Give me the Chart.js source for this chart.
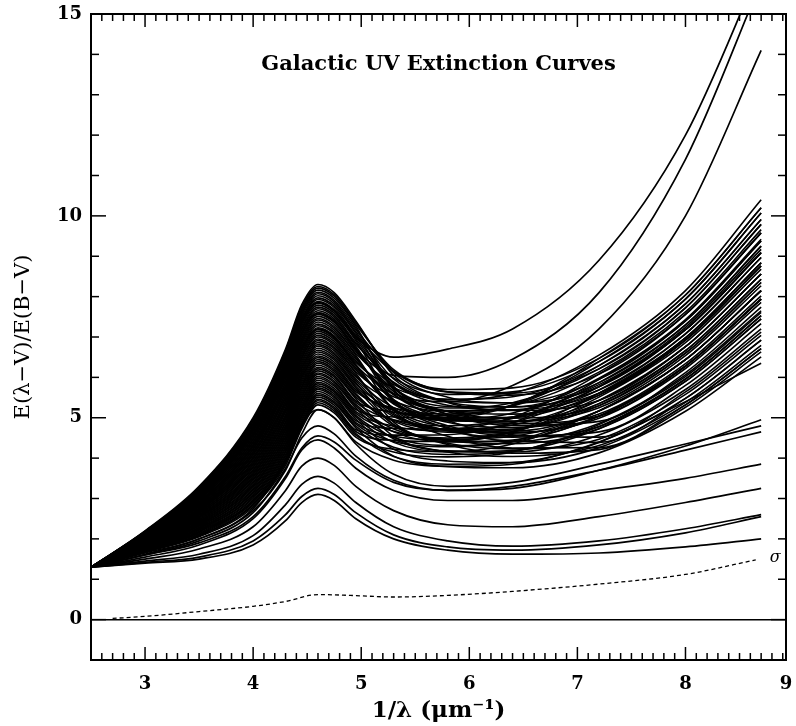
<!DOCTYPE html>
<html>
<head>
<meta charset="utf-8">
<title>Galactic UV Extinction Curves</title>
<script src="https://cdn.jsdelivr.net/npm/chart.js@4.4.1/dist/chart.umd.min.js"></script>
<style>
    html, body { margin: 0; padding: 0; background: #fff; }
    #wrap { width: 796px; height: 726px; }
</style>
</head>
<body>
<div id="wrap"><canvas id="uv-chart" width="796" height="726"></canvas></div>
<script>
var waveNumbers = [2.5, 3.0, 3.5, 4.0, 4.3, 4.45, 4.6, 4.75, 4.95, 5.3, 5.8, 6.4, 7.2, 8.0, 8.7];

// the dense bundle of curves, E(lambda-V)/E(B-V)
var bandCurves = [
    [1.3, 2.20, 3.30, 5.00, 6.70, 7.80, 8.30, 8.10, 7.40, 6.05, 5.38, 5.18, 5.43, 6.76, 8.56],
    [1.3, 2.19, 3.28, 4.97, 6.66, 7.75, 8.25, 8.05, 7.36, 6.12, 5.51, 5.37, 5.77, 7.18, 9.09],
    [1.3, 2.18, 3.26, 4.93, 6.61, 7.70, 8.21, 8.01, 7.31, 6.19, 5.64, 5.56, 6.08, 7.56, 9.58],
    [1.3, 2.18, 3.24, 4.90, 6.57, 7.66, 8.16, 7.96, 7.27, 5.69, 4.93, 4.58, 4.52, 5.64, 7.12],
    [1.3, 2.17, 3.22, 4.86, 6.52, 7.61, 8.11, 7.91, 7.22, 5.78, 5.08, 4.81, 4.91, 6.12, 7.74],
    [1.3, 2.16, 3.20, 4.83, 6.48, 7.56, 8.07, 7.87, 7.18, 6.15, 5.64, 5.61, 6.21, 7.72, 9.79],
    [1.3, 2.15, 3.18, 4.79, 6.43, 7.51, 8.02, 7.82, 7.13, 5.96, 5.39, 5.27, 5.69, 7.08, 8.97],
    [1.3, 2.14, 3.16, 4.76, 6.39, 7.46, 7.97, 7.77, 7.09, 5.74, 5.09, 4.86, 5.04, 6.28, 7.94],
    [1.3, 2.13, 3.14, 4.72, 6.34, 7.42, 7.93, 7.73, 7.04, 6.14, 5.70, 5.74, 6.47, 8.04, 10.2],
    [1.3, 2.13, 3.12, 4.69, 6.30, 7.37, 7.88, 7.68, 7.00, 5.86, 5.31, 5.20, 5.61, 6.98, 8.84],
    [1.3, 2.12, 3.11, 4.66, 6.25, 7.32, 7.84, 7.64, 6.95, 5.74, 5.15, 4.99, 5.30, 6.60, 8.35],
    [1.3, 2.11, 3.09, 4.62, 6.21, 7.27, 7.79, 7.59, 6.91, 5.44, 4.73, 4.42, 4.39, 5.48, 6.92],
    [1.3, 2.10, 3.07, 4.59, 6.16, 7.22, 7.74, 7.54, 6.86, 5.88, 5.41, 5.37, 5.95, 7.40, 9.38],
    [1.3, 2.09, 3.05, 4.55, 6.12, 7.18, 7.70, 7.50, 6.82, 5.98, 5.58, 5.64, 6.39, 7.94, 10.07],
    [1.3, 2.08, 3.03, 4.52, 6.07, 7.13, 7.65, 7.45, 6.77, 5.43, 4.80, 4.55, 4.65, 5.80, 7.33],
    [1.3, 2.08, 3.01, 4.48, 6.03, 7.08, 7.60, 7.40, 6.73, 5.58, 5.04, 4.91, 5.25, 6.54, 8.27],
    [1.3, 2.07, 2.99, 4.45, 5.98, 7.03, 7.56, 7.36, 6.68, 5.65, 5.16, 5.09, 5.56, 6.92, 8.76],
    [1.3, 2.06, 2.97, 4.41, 5.94, 6.98, 7.51, 7.31, 6.64, 5.72, 5.28, 5.27, 5.87, 7.30, 9.25],
    [1.3, 2.05, 2.95, 4.38, 5.89, 6.94, 7.46, 7.26, 6.59, 5.82, 5.45, 5.52, 6.29, 7.82, 9.91],
    [1.3, 2.04, 2.93, 4.34, 5.85, 6.89, 7.42, 7.22, 6.55, 5.18, 4.54, 4.25, 4.26, 5.32, 6.71],
    [1.3, 2.04, 2.91, 4.31, 5.80, 6.84, 7.37, 7.17, 6.50, 5.40, 4.89, 4.76, 5.09, 6.34, 8.02],
    [1.3, 2.03, 2.89, 4.28, 5.76, 6.79, 7.32, 7.12, 6.46, 5.45, 4.99, 4.91, 5.35, 6.66, 8.43],
    [1.3, 2.02, 2.87, 4.24, 5.71, 6.74, 7.28, 7.08, 6.41, 5.57, 5.18, 5.19, 5.82, 7.24, 9.17],
    [1.3, 2.01, 2.85, 4.21, 5.67, 6.70, 7.23, 7.03, 6.37, 5.74, 5.46, 5.60, 6.55, 8.15, 10.40],
    [1.3, 2.00, 2.83, 4.17, 5.62, 6.65, 7.18, 6.98, 6.32, 5.20, 4.68, 4.52, 4.78, 5.96, 7.53],
    [1.3, 1.99, 2.81, 4.14, 5.58, 6.60, 7.14, 6.94, 6.28, 5.23, 4.76, 4.64, 4.99, 6.22, 7.86],
    [1.3, 1.99, 2.79, 4.10, 5.53, 6.55, 7.09, 6.89, 6.23, 5.34, 4.93, 4.91, 5.43, 6.76, 8.56],
    [1.3, 1.98, 2.77, 4.07, 5.49, 6.50, 7.04, 6.84, 6.19, 5.37, 5.00, 5.01, 5.61, 6.98, 8.84],
    [1.3, 1.97, 2.75, 4.03, 5.44, 6.46, 7.00, 6.80, 6.14, 5.52, 5.24, 5.37, 6.21, 7.72, 9.79],
    [1.3, 1.96, 2.73, 4.00, 5.40, 6.41, 6.95, 6.75, 6.10, 4.89, 4.34, 4.12, 4.21, 5.26, 6.63],
    [1.3, 1.95, 2.72, 3.97, 5.35, 6.36, 6.91, 6.71, 6.05, 5.11, 4.69, 4.62, 5.04, 6.28, 7.94],
    [1.3, 1.94, 2.70, 3.93, 5.31, 6.31, 6.86, 6.66, 6.01, 5.41, 5.16, 5.29, 6.13, 7.62, 9.66],
    [1.3, 1.94, 2.68, 3.90, 5.26, 6.26, 6.81, 6.61, 5.96, 5.25, 4.95, 5.01, 5.69, 7.08, 8.97],
    [1.3, 1.93, 2.66, 3.86, 5.22, 6.22, 6.77, 6.57, 5.92, 5.07, 4.70, 4.67, 5.17, 6.44, 8.15],
    [1.3, 1.92, 2.64, 3.83, 5.17, 6.17, 6.72, 6.52, 5.87, 4.83, 4.37, 4.23, 4.47, 5.58, 7.04],
    [1.3, 1.91, 2.62, 3.79, 5.13, 6.12, 6.67, 6.47, 5.83, 5.19, 4.93, 5.02, 5.77, 7.18, 9.09],
    [1.3, 1.90, 2.60, 3.76, 5.08, 6.07, 6.63, 6.43, 5.78, 5.03, 4.70, 4.72, 5.30, 6.60, 8.35],
    [1.3, 1.89, 2.58, 3.72, 5.04, 6.02, 6.58, 6.38, 5.74, 4.83, 4.43, 4.36, 4.73, 5.90, 7.45],
    [1.3, 1.89, 2.56, 3.69, 4.99, 5.98, 6.53, 6.33, 5.69, 5.18, 4.97, 5.12, 5.98, 7.43, 9.42],
    [1.3, 1.88, 2.54, 3.65, 4.95, 5.93, 6.49, 6.29, 5.65, 5.24, 5.09, 5.30, 6.29, 7.82, 9.91],
    [1.3, 1.87, 2.52, 3.62, 4.90, 5.88, 6.44, 6.24, 5.60, 4.79, 4.44, 4.41, 4.86, 6.06, 7.65],
    [1.3, 1.86, 2.50, 3.59, 4.86, 5.83, 6.39, 6.19, 5.56, 4.91, 4.64, 4.70, 5.35, 6.66, 8.43],
    [1.3, 1.85, 2.48, 3.55, 4.81, 5.78, 6.35, 6.15, 5.51, 4.94, 4.72, 4.82, 5.56, 6.92, 8.76],
    [1.3, 1.85, 2.46, 3.52, 4.77, 5.74, 6.30, 6.10, 5.47, 4.54, 4.15, 4.04, 4.31, 5.38, 6.79],
    [1.3, 1.84, 2.44, 3.48, 4.72, 5.69, 6.25, 6.05, 5.42, 5.14, 5.05, 5.32, 6.39, 7.94, 10.07],
    [1.3, 1.83, 2.42, 3.45, 4.68, 5.64, 6.21, 6.01, 5.38, 4.95, 4.80, 4.98, 5.87, 7.30, 9.25],
    [1.3, 1.82, 2.40, 3.41, 4.63, 5.59, 6.16, 5.96, 5.33, 4.72, 4.47, 4.54, 5.17, 6.44, 8.15],
    [1.3, 1.81, 2.38, 3.38, 4.59, 5.54, 6.11, 5.91, 5.29, 4.65, 4.40, 4.45, 5.04, 6.28, 7.94],
    [1.3, 1.80, 2.36, 3.34, 4.54, 5.50, 6.07, 5.87, 5.24, 4.48, 4.18, 4.15, 4.57, 5.70, 7.20],
    [1.3, 1.80, 2.34, 3.31, 4.50, 5.45, 6.02, 5.82, 5.20, 5.02, 5.00, 5.31, 6.47, 8.04, 10.2],
    [1.3, 1.79, 2.33, 3.28, 4.45, 5.40, 5.98, 5.78, 5.15, 4.79, 4.67, 4.87, 5.77, 7.18, 9.09],
    [1.3, 1.78, 2.31, 3.24, 4.41, 5.35, 5.93, 5.73, 5.11, 4.66, 4.50, 4.65, 5.43, 6.76, 8.56],
    [1.3, 1.77, 2.29, 3.21, 4.36, 5.30, 5.88, 5.68, 5.06, 4.51, 4.31, 4.40, 5.04, 6.28, 7.94],
    [1.3, 1.76, 2.27, 3.17, 4.32, 5.26, 5.84, 5.64, 5.02, 4.39, 4.16, 4.19, 4.73, 5.90, 7.45],
    [1.3, 1.75, 2.25, 3.14, 4.27, 5.21, 5.79, 5.59, 4.97, 4.22, 3.93, 3.89, 4.26, 5.32, 6.71],
    [1.3, 1.75, 2.23, 3.10, 4.23, 5.16, 5.74, 5.54, 4.93, 4.74, 4.72, 5.01, 6.08, 7.56, 9.58],
    [1.3, 1.74, 2.21, 3.07, 4.18, 5.11, 5.70, 5.50, 4.88, 4.54, 4.45, 4.64, 5.51, 6.86, 8.68],
    [1.3, 1.73, 2.19, 3.03, 4.14, 5.06, 5.65, 5.45, 4.84, 4.41, 4.28, 4.42, 5.17, 6.44, 8.15],
    [1.3, 1.72, 2.17, 3.00, 4.09, 5.02, 5.60, 5.40, 4.79, 4.27, 4.09, 4.17, 4.78, 5.96, 7.53],
    [1.3, 1.71, 2.15, 2.96, 4.05, 4.97, 5.56, 5.36, 4.75, 4.05, 3.79, 3.76, 4.13, 5.16, 6.51],
    [1.3, 1.71, 2.13, 2.93, 4.00, 4.92, 5.51, 5.31, 4.70, 4.57, 4.58, 4.88, 5.95, 7.40, 9.38],
    [1.3, 1.70, 2.11, 2.90, 3.96, 4.87, 5.46, 5.26, 4.66, 4.44, 4.41, 4.66, 5.61, 6.98, 8.84],
    [1.3, 1.69, 2.09, 2.86, 3.91, 4.82, 5.42, 5.22, 4.61, 4.04, 3.85, 3.89, 4.39, 5.48, 6.92],
    [1.3, 1.68, 2.07, 2.83, 3.87, 4.78, 5.37, 5.17, 4.57, 4.15, 4.03, 4.15, 4.83, 6.02, 7.61],
    [1.3, 1.67, 2.05, 2.79, 3.82, 4.73, 5.32, 5.12, 4.52, 4.22, 4.16, 4.35, 5.17, 6.44, 8.15],
    [1.3, 1.65, 2.00, 2.70, 3.70, 4.60, 5.20, 5.00, 4.40, 3.95, 3.80, 3.85, 4.40, 5.40, 6.35]
];

// three curves with a very steep far-UV rise
var steepCurves = [
    [1.3, 2.15, 3.15, 4.75, 6.30, 7.35, 7.85, 7.65, 7.00, 6.50, 6.70, 7.20, 8.90, 12.0, 16.2],
    [1.3, 2.12, 3.08, 4.60, 6.10, 7.10, 7.60, 7.40, 6.70, 6.05, 6.00, 6.45, 8.10, 11.4, 15.8],
    [1.3, 2.05, 2.90, 4.30, 5.70, 6.70, 7.20, 7.00, 6.30, 5.60, 5.40, 5.80, 7.20, 10.0, 14.1]
];

// weak-bump curves lying under the bundle
var lowCurves = [
    [1.3, 1.40, 1.50, 1.85, 2.45, 2.90, 3.10, 2.95, 2.50, 2.00, 1.72, 1.62, 1.65, 1.80, 2.00],
    [1.3, 1.42, 1.55, 1.95, 2.60, 3.05, 3.25, 3.10, 2.65, 2.10, 1.80, 1.72, 1.85, 2.15, 2.55],
    [1.3, 1.45, 1.62, 2.08, 2.85, 3.35, 3.55, 3.38, 2.90, 2.30, 1.95, 1.82, 1.95, 2.25, 2.60],
    [1.3, 1.50, 1.75, 2.30, 3.20, 3.80, 4.00, 3.82, 3.30, 2.70, 2.35, 2.30, 2.55, 2.90, 3.25],
    [1.3, 1.55, 1.85, 2.50, 3.50, 4.20, 4.45, 4.25, 3.75, 3.20, 2.95, 2.95, 3.20, 3.50, 3.85],
    [1.3, 1.60, 1.95, 2.65, 3.75, 4.50, 4.80, 4.60, 4.05, 3.45, 3.20, 3.30, 3.70, 4.20, 4.65],
    [1.3, 1.62, 2.00, 2.75, 3.95, 4.85, 5.20, 5.00, 4.35, 3.60, 3.30, 3.40, 3.85, 4.35, 4.80],
    [1.3, 1.60, 1.90, 2.55, 3.55, 4.25, 4.55, 4.40, 3.95, 3.40, 3.20, 3.25, 3.70, 4.30, 4.95]
];

// dispersion (sigma) of the sample, dotted curve
var sigmaWave = [2.7, 3.0, 3.5, 4.0, 4.3, 4.6, 4.9, 5.3, 5.8, 6.4, 7.2, 8.0, 8.65];
var sigmaValues = [0.03, 0.08, 0.20, 0.33, 0.45, 0.62, 0.60, 0.56, 0.60, 0.70, 0.88, 1.12, 1.48];

var serif = "'DejaVu Serif', 'Liberation Serif', serif";

function curveDatasets(list, width) {
    return list.map(function (vals) {
        return {
            data: vals.map(function (v, i) { return { x: waveNumbers[i], y: v }; }),
            borderColor: '#000',
            borderWidth: width,
            pointRadius: 0,
            fill: false,
            cubicInterpolationMode: 'monotone'
        };
    });
}

var datasets = curveDatasets(bandCurves, 1.6)
    .concat(curveDatasets(steepCurves, 1.7))
    .concat(curveDatasets(lowCurves, 1.7));

datasets.push({
    data: sigmaValues.map(function (v, i) { return { x: sigmaWave[i], y: v }; }),
    borderColor: '#000',
    borderWidth: 1.3,
    borderDash: [4, 3],
    pointRadius: 0,
    fill: false,
    cubicInterpolationMode: 'monotone'
});

// frame with inward ticks, zero line and the in-plot labels
var framePlugin = {
    id: 'frame',
    afterDatasetsDraw: function (chart) {
        var ctx = chart.ctx, a = chart.chartArea;
        var x = chart.scales.x, y = chart.scales.y;
        ctx.save();
        ctx.strokeStyle = '#000';

        function seg(x1, y1, x2, y2) {
            ctx.beginPath();
            ctx.moveTo(x1, y1);
            ctx.lineTo(x2, y2);
            ctx.stroke();
        }

        ctx.lineWidth = 1.5;
        var y0 = y.getPixelForValue(0);
        seg(a.left, y0, a.right, y0);

        for (var i = 26; i < 90; i++) {
            var px = x.getPixelForValue(i / 10);
            if (px >= a.right - 1) break;
            var len = i % 10 === 0 ? 13 : 7;
            seg(px, a.bottom, px, a.bottom - len);
            seg(px, a.top, px, a.top + len);
        }
        for (var j = 0; j < 15; j++) {
            var py = y.getPixelForValue(j);
            var ylen = j % 5 === 0 ? 15 : 8;
            seg(a.left, py, a.left + ylen, py);
            seg(a.right, py, a.right - ylen, py);
        }

        ctx.lineWidth = 2;
        ctx.strokeRect(a.left, a.top, a.right - a.left, a.bottom - a.top);

        // title sits inside the frame, centred over the plot
        ctx.fillStyle = '#000';
        ctx.font = 'bold 21px ' + serif;
        ctx.textAlign = 'center';
        ctx.textBaseline = 'middle';
        ctx.fillText('Galactic UV Extinction Curves', (a.left + a.right) / 2, 65);

        var last = sigmaWave.length - 1;
        ctx.font = 'italic 16px ' + serif;
        ctx.textAlign = 'left';
        ctx.fillText('\u03c3', x.getPixelForValue(sigmaWave[last]) + 14,
            y.getPixelForValue(sigmaValues[last]) - 2);
        ctx.restore();
    }
};

var uvChart = document.getElementById('uv-chart');
var myChart = new Chart(uvChart, {
    type: 'line',
    data: { datasets: datasets },
    options: {
        responsive: false,
        animation: false,
        devicePixelRatio: 1,
        layout: { padding: { top: 14, right: 10, left: 0, bottom: 0 } },
        scales: {
            x: {
                type: 'linear',
                min: 2.5,
                max: 8.93,
                afterFit: function (scale) {
                    scale.height = 66;
                    scale.paddingLeft = 0;
                    scale.paddingRight = 0;
                },
                grid: { display: false, drawTicks: false },
                border: { display: false },
                ticks: {
                    stepSize: 1,
                    padding: 14,
                    color: '#000',
                    font: { family: serif, size: 18, weight: 'bold' },
                    callback: function (v) {
                        var r = Math.round(v);
                        return Math.abs(v - r) < 0.1 ? String(r) : '';
                    }
                },
                title: {
                    display: true,
                    text: '1/\u03bb (\u03bcm\u207b\u00b9)',
                    color: '#000',
                    font: { family: serif, size: 23, weight: 'bold' },
                    padding: { top: 0, bottom: 1 }
                }
            },
            y: {
                min: -1,
                max: 15,
                afterFit: function (scale) {
                    scale.width = 91;
                    scale.paddingTop = 0;
                    scale.paddingBottom = 0;
                },
                grid: { display: false, drawTicks: false },
                border: { display: false },
                ticks: {
                    stepSize: 5,
                    padding: 9,
                    color: '#000',
                    font: { family: serif, size: 18, weight: 'bold' },
                    callback: function (v) { return v % 5 === 0 ? String(v) : ''; }
                },
                title: {
                    display: true,
                    text: 'E(\u03bb\u2212V)/E(B\u2212V)',
                    color: '#000',
                    font: { family: serif, size: 21 },
                    padding: { top: 11, bottom: 0 }
                }
            }
        },
        plugins: {
            legend: { display: false },
            tooltip: { enabled: false }
        }
    },
    plugins: [framePlugin]
});
</script>
</body>
</html>
